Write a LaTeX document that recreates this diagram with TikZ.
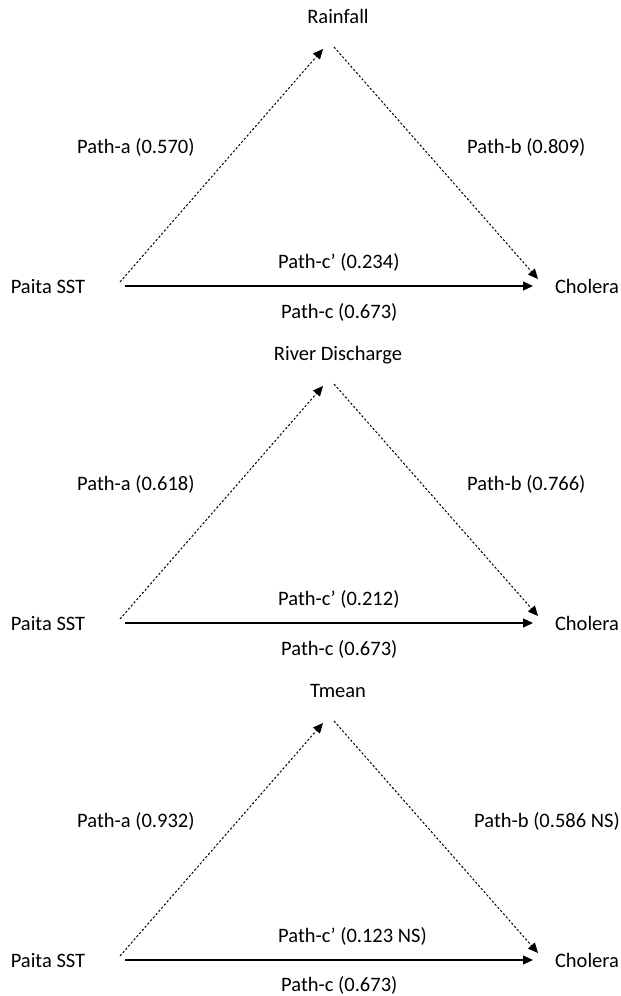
\documentclass[tikz,border=0pt]{standalone}
\usepackage{fontspec}
\setmainfont{Carlito}
\usetikzlibrary{arrows.meta}
\tikzset{
  lbl/.style={font=\fontsize{20.5}{24}\selectfont, inner sep=0pt, anchor=base},
  lblw/.style={lbl, anchor=base west},
  dotarrow/.style={line width=1pt, dash pattern=on 2.2pt off 2pt, -{Triangle[length=10pt,width=9pt]}},
  solidarrow/.style={line width=1.1pt, -{Triangle[length=10pt,width=9pt]}},
}
\newcommand\mypanel[6]{%
  \begin{scope}[yshift=-#2pt]
    \node[lbl] (top#1) at (338,23) {#3};
    \node[lbl] (sst#1) at (48,293) {Paita SST};
    \node[lbl] (chol#1) at (587,293) {Cholera};
    \node[lblw] (pa#1) at (77,153) {Path-a (#4)};
    \node[lblw] (pb#1) at (#6,153) {Path-b (#5)};
    \coordinate (s1#1) at (120,282);
    \coordinate (t1#1) at (323,49);
    \coordinate (s2#1) at (334,47);
    \coordinate (t2#1) at (538,279);
    \coordinate (s3#1) at (125,286);
    \coordinate (t3#1) at (533,286);
    \draw[dotarrow] (s1#1) -- (t1#1);
    \draw[dotarrow] (s2#1) -- (t2#1);
    \draw[solidarrow] (s3#1) -- (t3#1);
  \end{scope}}
\begin{document}
\begin{tikzpicture}[x=1pt,y=-1pt]
\useasboundingbox (0,0) rectangle (621,996);
\mypanel{1}{0}{Rainfall}{0.570}{0.809}{467}
\node[lblw] (pcp1) at (278,268) {Path-c’ (0.234)};
\node[lblw] (pc1) at (281,318) {Path-c (0.673)};
\mypanel{2}{337}{River Discharge}{0.618}{0.766}{467}
\node[lblw] (pcp2) at (278,605) {Path-c’ (0.212)};
\node[lblw] (pc2) at (281,655) {Path-c (0.673)};
\mypanel{3}{674}{Tmean}{0.932}{0.586 NS}{474}
\node[lblw] (pcp3) at (278,942) {Path-c’ (0.123 NS)};
\node[lblw] (pc3) at (281,991) {Path-c (0.673)};
\end{tikzpicture}
\end{document}
